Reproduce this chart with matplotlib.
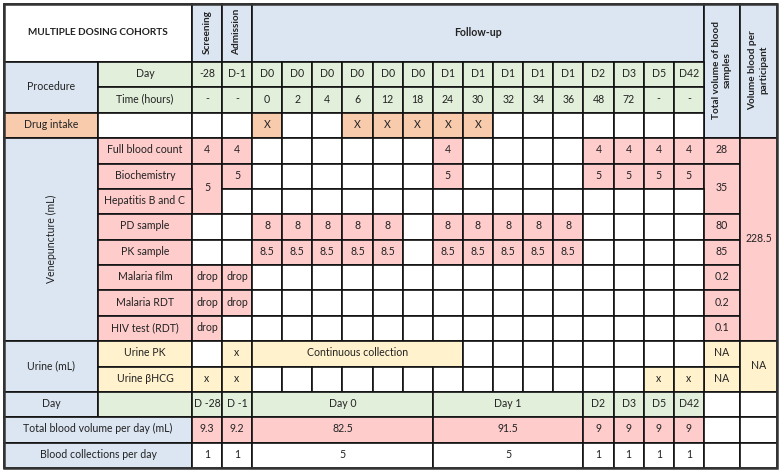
import matplotlib.pyplot as plt
from matplotlib.patches import Rectangle

plt.rcParams['font.family'] = ['Lato', 'DejaVu Sans']

# ---- data ----
title = 'MULTIPLE DOSING COHORTS'
phases = ['Screening', 'Admission']
followup = 'Follow-up'
pre_day = ['-28', 'D-1']
pre_hours = ['-', '-']
tp_days = ['D0', 'D0', 'D0', 'D0', 'D0', 'D0', 'D1', 'D1', 'D1', 'D1', 'D1', 'D2', 'D3', 'D5', 'D42']
tp_hours = ['0', '2', '4', '6', '12', '18', '24', '30', '32', '34', '36', '48', '72', '-', '-']
drug_intake = ['X', '', '', 'X', 'X', 'X', 'X', 'X', '', '', '', '', '', '', '']

vene_labels = ['Full blood count', 'Biochemistry', 'Hepatitis B and C', 'PD sample',
               'PK sample', 'Malaria film', 'Malaria RDT', 'HIV test (RDT)']
vene_screening = ['4', '5', None, '', '', 'drop', 'drop', 'drop']   # None = merged with row above
vene_admission = ['4', '5', '', '', '', 'drop', 'drop', '']
fbc_tp = ['', '', '', '', '', '', '4', '', '', '', '', '4', '4', '4', '4']
bio_tp = ['', '', '', '', '', '', '5', '', '', '', '', '5', '5', '5', '5']
hep_tp = [''] * 15
pd_tp = ['8', '8', '8', '8', '8', '', '8', '8', '8', '8', '8', '', '', '', '']
pk_tp = ['8.5', '8.5', '8.5', '8.5', '8.5', '', '8.5', '8.5', '8.5', '8.5', '8.5', '', '', '', '']
film_tp = [''] * 15
rdt_tp = [''] * 15
hiv_tp = [''] * 15
vene_tp = [fbc_tp, bio_tp, hep_tp, pd_tp, pk_tp, film_tp, rdt_tp, hiv_tp]
vene_totals = ['28', '35', None, '80', '85', '0.2', '0.2', '0.1']
vol_participant = '228.5'

urine_labels = ['Urine PK', 'Urine βHCG']
urine_screening = ['', 'x']
urine_admission = ['x', 'x']
urine_bhcg_tp = ['', '', '', '', '', '', '', '', '', '', '', '', '', 'x', 'x']
urine_totals = ['NA', 'NA']
urine_participant = 'NA'
continuous = 'Continuous collection'

summary_days = ['D -28', 'D -1', 'Day 0', 'Day 1', 'D2', 'D3', 'D5', 'D42']
blood_per_day = ['9.3', '9.2', '82.5', '91.5', '9', '9', '9', '9']
collections_per_day = ['1', '1', '5', '5', '1', '1', '1', '1']

# ---- layout ----
BLUE = '#dce6f2'
GREEN = '#e2efda'
ORANGE = '#f8cbad'
PINK = '#ffcccc'
YELLOW = '#fff2cc'
TXT = '#222222'
FS = 7.6

col_w = [94, 94, 30, 30] + [30.13] * 15 + [36, 37]
row_h = [58] + [25.375] * 16
xs = [4]
for w in col_w:
    xs.append(xs[-1] + w)
ys = [4]
for h in row_h:
    ys.append(ys[-1] + h)

fig = plt.figure(figsize=(7.82, 4.74), dpi=100)
ax = fig.add_axes([0, 0, 1, 1])
ax.set_xlim(0, 782)
ax.set_ylim(474, 0)
ax.axis('off')


def cell(r0, c0, text='', fc='white', r1=None, c1=None, bold=False, rot=0, fs=FS):
    r1 = r0 if r1 is None else r1
    c1 = c0 if c1 is None else c1
    x0, x1 = xs[c0], xs[c1 + 1]
    y0, y1 = ys[r0], ys[r1 + 1]
    ax.add_patch(Rectangle((x0, y0), x1 - x0, y1 - y0, facecolor=fc,
                           edgecolor='#111111', linewidth=1.2))
    if text:
        ax.text((x0 + x1) / 2, (y0 + y1) / 2 - 1, text, ha='center', va='center',
                rotation=rot, fontsize=fs, color=TXT,
                fontweight='bold' if bold else 'normal', linespacing=1.3)


# header
cell(0, 0, title, 'white', c1=1, bold=True, fs=7.2)
for i, p in enumerate(phases):
    cell(0, 2 + i, p, BLUE, bold=True, rot=90, fs=7.2)
cell(0, 4, followup, BLUE, c1=18, bold=True, fs=7.6)
cell(0, 19, 'Total volume of blood\nsamples', BLUE, r1=3, bold=True, rot=90, fs=7.2)
cell(0, 20, 'Volume blood per\nparticipant', BLUE, r1=3, bold=True, rot=90, fs=7.2)

# procedure
cell(1, 0, 'Procedure', BLUE, r1=2)
cell(1, 1, 'Day', GREEN)
cell(2, 1, 'Time (hours)', GREEN)
for i in range(2):
    cell(1, 2 + i, pre_day[i], GREEN)
    cell(2, 2 + i, pre_hours[i], GREEN)
for i in range(15):
    cell(1, 4 + i, tp_days[i], GREEN)
    cell(2, 4 + i, tp_hours[i], GREEN)

# drug intake
cell(3, 0, 'Drug intake', ORANGE)
for c in range(1, 4):
    cell(3, c)
for i, v in enumerate(drug_intake):
    cell(3, 4 + i, v, ORANGE if v else 'white')

# venepuncture
cell(4, 0, 'Venepuncture (mL)', BLUE, r1=11, rot=90)
for k, lab in enumerate(vene_labels):
    r = 4 + k
    cell(r, 1, lab, PINK)
    s = vene_screening[k]
    if s is not None:
        nxt = vene_screening[k + 1] if k + 1 < len(vene_screening) else ''
        cell(r, 2, s, PINK if s else 'white', r1=r + 1 if nxt is None else r)
    a = vene_admission[k]
    cell(r, 3, a, PINK if a else 'white')
    for i, v in enumerate(vene_tp[k]):
        cell(r, 4 + i, v, PINK if v else 'white')
    t = vene_totals[k]
    if t is not None:
        nxt = vene_totals[k + 1] if k + 1 < len(vene_totals) else ''
        cell(r, 19, t, PINK, r1=r + 1 if nxt is None else r)
cell(4, 20, vol_participant, PINK, r1=11)

# urine
cell(12, 0, 'Urine (mL)', BLUE, r1=13)
for k, lab in enumerate(urine_labels):
    r = 12 + k
    cell(r, 1, lab, YELLOW)
    cell(r, 2, urine_screening[k], YELLOW if urine_screening[k] else 'white')
    cell(r, 3, urine_admission[k], YELLOW if urine_admission[k] else 'white')
    cell(r, 19, urine_totals[k], YELLOW)
cell(12, 4, continuous, YELLOW, c1=10)
for c in range(11, 19):
    cell(12, c)
for i, v in enumerate(urine_bhcg_tp):
    cell(13, 4 + i, v, YELLOW if v else 'white')
cell(12, 20, urine_participant, YELLOW, r1=13)

# summary rows
spans = [(2, 2), (3, 3), (4, 9), (10, 14), (15, 15), (16, 16), (17, 17), (18, 18)]
cell(14, 0, 'Day', BLUE)
cell(14, 1, '', GREEN)
cell(15, 0, 'Total blood volume per day (mL)', BLUE, c1=1)
cell(16, 0, 'Blood collections per day', BLUE, c1=1)
for k, (c0, c1) in enumerate(spans):
    cell(14, c0, summary_days[k], GREEN, c1=c1)
    cell(15, c0, blood_per_day[k], PINK, c1=c1)
    cell(16, c0, collections_per_day[k], 'white', c1=c1)
for r in (14, 15, 16):
    cell(r, 19)
    cell(r, 20)

# outer frame
ax.add_patch(Rectangle((xs[0], ys[0]), xs[-1] - xs[0], ys[-1] - ys[0],
                       fill=False, edgecolor='#333333', linewidth=1.8))

plt.savefig('out.png', dpi=100)
